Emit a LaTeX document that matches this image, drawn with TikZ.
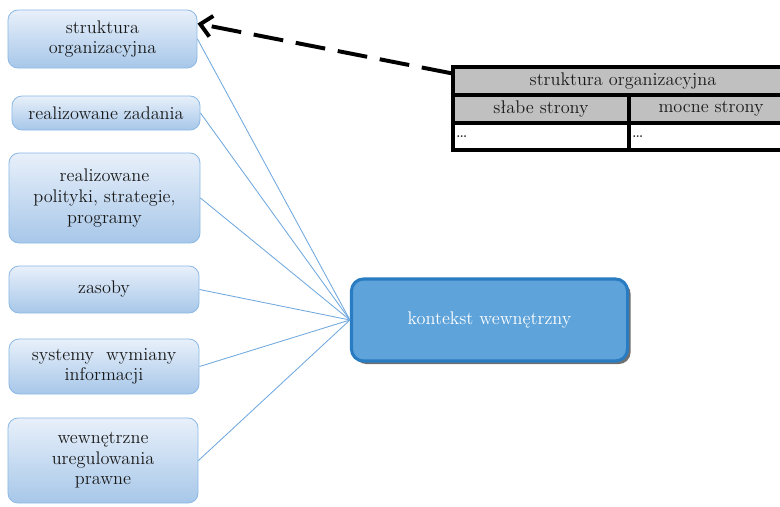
\documentclass[tikz,border=0pt]{standalone}
\usepackage{tikz}
\usetikzlibrary{arrows.meta,shadows}
\definecolor{BoxTop}{HTML}{E8F0FA}
\definecolor{BoxBot}{HTML}{A7C7E9}
\definecolor{BoxLine}{HTML}{8DBAE5}
\definecolor{Wire}{HTML}{6FA8DE}
\definecolor{Core}{HTML}{5FA3DB}
\definecolor{CoreLine}{HTML}{2A7CC2}
\definecolor{Cell}{HTML}{C0C0C0}

\begin{document}
\begin{tikzpicture}[x=0.025cm,y=-0.025cm,
  item/.style={draw=BoxLine,line width=0.6pt,rounded corners=0.25cm,
    top color=BoxTop,bottom color=BoxBot,minimum width=4.75cm,
    align=center,font=\fontsize{13}{14.6}\selectfont,text=black!90},
  core/.style={draw=CoreLine,line width=2.2pt,fill=Core,rounded corners=0.3cm,
    minimum width=6.9cm,minimum height=2.05cm,text=white,
    font=\fontsize{13}{14.6}\selectfont,
    drop shadow={shadow xshift=2.2pt,shadow yshift=-2.2pt,fill=black!80,
      opacity=0.7}},
  cell/.style={draw=black,line width=2.5pt,fill=Cell,minimum height=0.7cm,
    inner sep=0pt,font=\fontsize{13}{14.6}\selectfont,text=black!90},
  blank/.style={cell,fill=white,minimum height=0.675cm,text width=#1,
    align=left,inner sep=2pt},
  wire/.style={Wire,line width=0.6pt},
  pointer/.style={-{Straight Barb[length=8pt,width=15pt]},line width=2.8pt,
    dash pattern=on 0.75cm off 0.32cm}]
  \useasboundingbox (0,0) rectangle (780,506);

  % boxes on the left
  \node[item,minimum width=4.725cm,minimum height=1.45cm] (str) at (102.5,39)
    {struktura\\organizacyjna};
  \node[item,minimum width=4.7cm,minimum height=0.85cm] (zad) at (106,113)
    {realizowane zadania};
  \node[item,minimum width=4.775cm,minimum height=2.25cm] (pol) at (104.5,198)
    {realizowane\\polityki, strategie,\\programy};
  \node[item,minimum height=1.175cm] (zas) at (104,289.5) {zasoby};
  \node[item,minimum height=1.375cm] (sys) at (104,366.5)
    {systemy\ \ wymiany\\informacji};
  \node[item,minimum height=2.125cm] (reg) at (103,460.5)
    {wewnętrzne\\uregulowania\\prawne};

  \node[core] (ctx) at (489.5,320) {kontekst wewnętrzny};

  \foreach \n in {str,zad,pol,zas,sys,reg}
    \draw[wire] (\n.east) -- (ctx.west);

  % swot table
  \node[cell,minimum width=8.5cm] (tabhead) at (623,81)
    {struktura organizacyjna};
  \node[cell,minimum width=4.4cm] (weak) at (541,109) {słabe strony};
  \node[cell,minimum width=4.1cm] (strong) at (711,109) {mocne strony};
  \node[blank=4.4cm-4pt] (weakdots) at (541,136.5) {\dots};
  \node[blank=4.1cm-4pt] (strongdots) at (711,136.5) {\dots};

  \draw[pointer] ([yshift=-0.2cm]tabhead.north west)
    -- ([yshift=-0.35cm]str.north east);
\end{tikzpicture}
\end{document}
